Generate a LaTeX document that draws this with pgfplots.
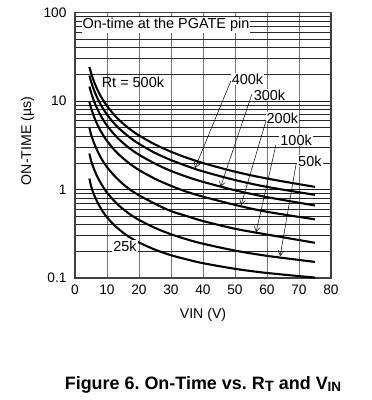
\documentclass[border=0pt]{standalone}
\usepackage{pgfplots}
\pgfplotsset{compat=1.18}
\usepackage{fontspec}
\setmainfont{Liberation Sans}
\usetikzlibrary{arrows.meta}
\begin{document}
\frenchspacing
\begin{tikzpicture}
\useasboundingbox (-75bp,-122bp) rectangle (297bp,278bp);
\begin{axis}[
  scale only axis, width=256bp, height=265.5bp,
  at={(0,0)}, anchor=south west,
  xmin=0, xmax=80, ymin=0.1, ymax=100, ymode=log,
  xtick={0,10,...,80},
  ytick={0.1,1,10,100}, yticklabels={0.1,1,10,100},
  /pgf/number format/assume math mode=true,
  major tick length=0pt, minor tick length=0pt,
  xmajorgrids=true, ymajorgrids=true, yminorgrids=true,
  every major x grid/.style={black!55, line width=0.8pt},
  every major y grid/.style={black!90, line width=0.6pt},
  every minor y grid/.style={black!85, line width=0.6pt},
  axis line style={black!75, line width=1.1pt},
  tick label style={font=\fontsize{13.8}{14}\selectfont},
  xticklabel style={yshift=-3bp},
  yticklabel style={xshift=-5bp},
  label style={font=\fontsize{14.2}{15}\selectfont},
  xlabel={VIN (V)}, ylabel={ON-TIME (µs)},
  xlabel style={at={(axis description cs:0.5,-0.139)}, anchor=center},
  ylabel style={at={(axis description cs:-0.186,0.516)}, anchor=center},
  clip=false,
]
\tikzset{curve/.style={black, solid, line width=2.1pt, smooth, mark=none}}
% Rt = 500k
\addplot[curve] coordinates {(4.5,24.24)(5,20.88)(5.5,18.34)(6,16.35)(7,13.44)(8,11.41)(9,9.92)(10,8.77)(12,7.13)(14,6.00)(17,4.86)(20,4.08)(25,3.23)(30,2.67)(35,2.28)(40,1.99)(50,1.59)(60,1.33)(75,1.07)};
% 400k
\addplot[curve] coordinates {(4.5,19.40)(5,16.72)(5.5,14.68)(6,13.09)(7,10.76)(8,9.14)(9,7.95)(10,7.03)(12,5.71)(14,4.81)(17,3.90)(20,3.28)(25,2.59)(30,2.15)(35,1.84)(40,1.60)(50,1.28)(60,1.07)(75,0.87)};
% 300k
\addplot[curve] coordinates {(4.5,14.57)(5,12.55)(5.5,11.03)(6,9.83)(7,8.09)(8,6.87)(9,5.97)(10,5.28)(12,4.30)(14,3.62)(17,2.93)(20,2.47)(25,1.96)(30,1.62)(35,1.39)(40,1.22)(50,0.98)(60,0.82)(75,0.66)};
% 200k
\addplot[curve] coordinates {(4.5,9.73)(5,8.38)(5.5,7.37)(6,6.57)(7,5.41)(8,4.60)(9,4.00)(10,3.54)(12,2.88)(14,2.43)(17,1.97)(20,1.66)(25,1.32)(30,1.10)(35,0.94)(40,0.83)(50,0.67)(60,0.56)(75,0.46)};
% 100k
\addplot[curve] coordinates {(4.5,4.95)(5,4.22)(5.5,3.71)(6,3.31)(7,2.73)(8,2.32)(9,2.02)(10,1.79)(12,1.47)(14,1.24)(17,1.01)(20,0.86)(25,0.69)(30,0.57)(35,0.50)(40,0.44)(50,0.36)(60,0.31)(75,0.25)};
% 50k
\addplot[curve] coordinates {(4.5,2.55)(5,2.13)(5.5,1.88)(6,1.68)(7,1.39)(8,1.19)(9,1.04)(10,0.92)(12,0.76)(14,0.645)(17,0.53)(20,0.453)(25,0.368)(30,0.312)(35,0.273)(40,0.244)(50,0.204)(60,0.178)(75,0.152)};
% 25k
\addplot[curve] coordinates {(4.5,1.33)(5,1.10)(5.5,0.965)(6,0.865)(7,0.72)(8,0.618)(9,0.543)(10,0.486)(12,0.404)(14,0.348)(17,0.29)(20,0.252)(25,0.209)(30,0.181)(35,0.162)(40,0.147)(50,0.127)(60,0.114)(75,0.101)};

\tikzset{lbl/.style={fill=white, inner sep=1pt, font=\fontsize{14.5}{15}\selectfont}}
\node[lbl, anchor=west] at (axis cs:2.0,72.3) {On-time at the PGATE pin};
\node[font=\fontsize{14.5}{15}\selectfont] at (axis cs:18.1,16.3) {Rt = 500k};
\node[lbl] at (axis cs:15.6,0.226) {25k};
\node[lbl] at (axis cs:53.9,17.7) {400k};
\node[lbl] at (axis cs:60.8,11.7) {300k};
\node[lbl] at (axis cs:64.8,6.43) {200k};
\node[lbl] at (axis cs:69.1,3.63) {100k};
\node[lbl] at (axis cs:73.4,2.1) {50k};
\tikzset{arr/.style={black, line width=0.5pt, -{Straight Barb[length=5pt,width=6pt]}}}
\draw[arr] (axis cs:48.75,17.0) -- (axis cs:37.5,1.75);
\draw[arr] (axis cs:55.3,12.0) -- (axis cs:45.5,1.075);
\draw[arr] (axis cs:59.7,6.0) -- (axis cs:51.9,0.668);
\draw[arr] (axis cs:62.8,3.2) -- (axis cs:56.6,0.331);
\draw[arr] (axis cs:69.1,1.95) -- (axis cs:64.1,0.177);
\end{axis}
\node[font=\bfseries\fontsize{18}{19}\selectfont] at (128bp,-106.5bp)
  {Figure 6. On-Time vs. R\raisebox{-0.3ex}{\fontsize{15}{15}\selectfont T} and V\raisebox{-0.3ex}{\fontsize{13.5}{13.5}\selectfont IN}};
\end{tikzpicture}
\end{document}
